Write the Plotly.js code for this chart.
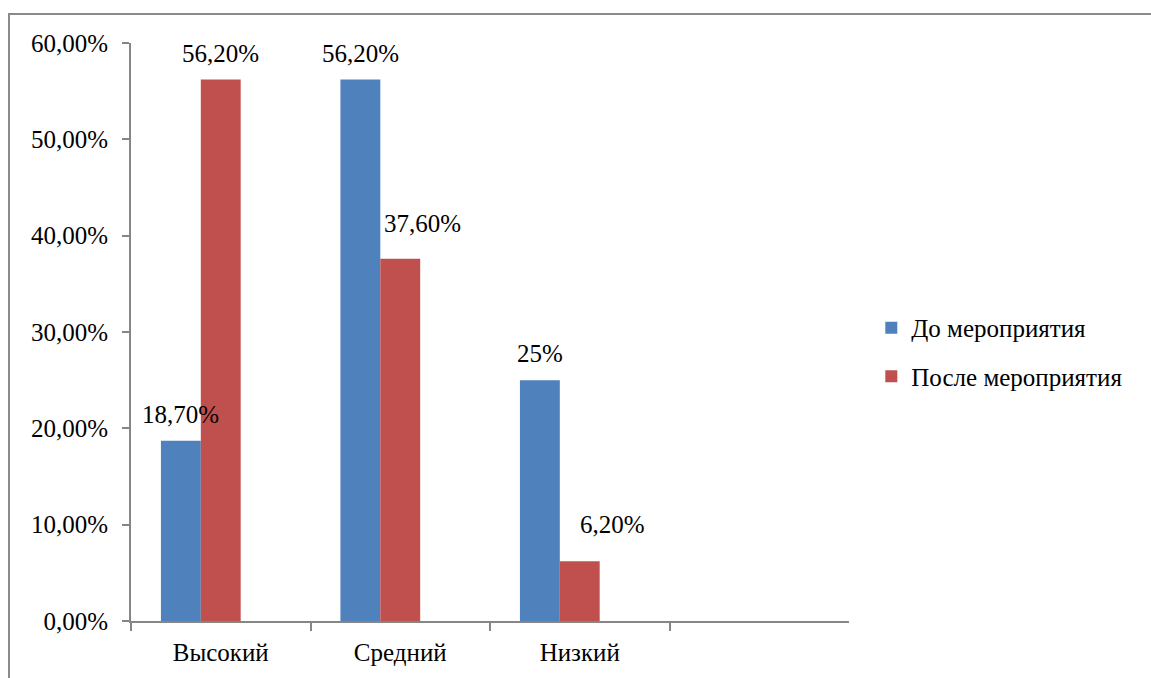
<!DOCTYPE html>
<html>
<head>
<meta charset="utf-8">
<script src="https://cdn.plot.ly/plotly-3.0.1.min.js"></script>
<style>
  html, body { margin: 0; padding: 0; background: #fff; }
  #wrap { position: relative; width: 1151px; height: 678px; overflow: hidden; }
  #chart { position: absolute; left: 0; top: 0; width: 1151px; height: 678px; }
  #frame { position: absolute; left: 8px; top: 13px; right: -4px; bottom: -4px;
           border-top: 2px solid #8a8a8a; border-left: 2px solid #8a8a8a; pointer-events: none; }
</style>
</head>
<body>
<div id="wrap">
  <div id="chart"></div>
  <div id="frame"></div>
</div>
<script>
// Levels and the share of participants at each level, in percent
const categories = ['Высокий', 'Средний', 'Низкий'];
const seriesNames = ['До мероприятия', 'После мероприятия'];
const before = [18.7, 56.2, 25];
const after = [56.2, 37.6, 6.2];
const yTicks = [0, 10, 20, 30, 40, 50, 60];

const colors = ['#4F81BD', '#C0504D'];
const axisGray = '#868686';
const font = { family: 'Liberation Serif, "Times New Roman", serif', size: 25, color: '#000' };

// Three bar slots per category (the third stays empty), gap of half a bar
const barW = 1 / 4.5;
const offsets = [-1.5 * barW, -0.5 * barW];

// Hand-placed value labels: pixel nudges [dx, dy] per series and category
const labelNudge = [
  [[0, 0], [0, 0], [0, 0]],
  [[0, 0], [22, 9], [33, 10]]
];
const labelLift = 11;

function pct(v) {
  return (Number.isInteger(v) ? String(v) : v.toFixed(2).replace('.', ',')) + '%';
}
function axisPct(v) {
  return v.toFixed(2).replace('.', ',') + '%';
}

const series = [before, after];

const traces = series.map((vals, i) => ({
  type: 'bar',
  name: seriesNames[i],
  x: categories,
  y: vals,
  width: barW,
  offset: offsets[i],
  marker: { color: colors[i] },
  legendgroup: 'g' + i,
  hoverinfo: 'skip'
}));

// Value labels sit above every bar, drawn on top of all bars
const labels = [];
series.forEach((vals, i) => {
  vals.forEach((v, k) => {
    labels.push({
      xref: 'x', yref: 'y',
      x: k + offsets[i] + barW / 2,
      y: v,
      text: pct(v),
      showarrow: false,
      xanchor: 'center',
      yanchor: 'bottom',
      xshift: labelNudge[i][k][0],
      yshift: labelLift + labelNudge[i][k][1],
      font: font
    });
  });
});

const layout = {
  width: 1151,
  height: 678,
  margin: { l: 131, r: 302, t: 43, b: 57 },
  paper_bgcolor: '#fff',
  plot_bgcolor: '#fff',
  font: font,
  barmode: 'overlay',
  showlegend: true,
  annotations: labels,
  legend: {
    xref: 'container', yref: 'container',
    x: 0.757, xanchor: 'left',
    y: 0.481, yanchor: 'middle',
    font: font,
    traceorder: 'grouped',
    tracegroupgap: 13,
    bgcolor: 'rgba(0,0,0,0)'
  },
  xaxis: {
    type: 'category',
    range: [-0.5, 3.5],
    tickson: 'boundaries',
    ticks: 'outside',
    ticklen: 8,
    tickcolor: axisGray,
    tickwidth: 2,
    ticklabelstandoff: 8,
    showline: true,
    linecolor: axisGray,
    linewidth: 2,
    showgrid: false,
    zeroline: false,
    tickfont: font,
    fixedrange: true
  },
  yaxis: {
    range: [0, 60],
    tickvals: yTicks,
    ticktext: yTicks.map(axisPct),
    ticks: 'outside',
    ticklen: 7,
    tickcolor: axisGray,
    tickwidth: 2,
    ticklabelstandoff: 9,
    showline: true,
    linecolor: axisGray,
    linewidth: 2,
    showgrid: false,
    zeroline: false,
    tickfont: font,
    fixedrange: true
  }
};

Plotly.newPlot('chart', traces, layout, { displayModeBar: false, staticPlot: true });
</script>
</body>
</html>
